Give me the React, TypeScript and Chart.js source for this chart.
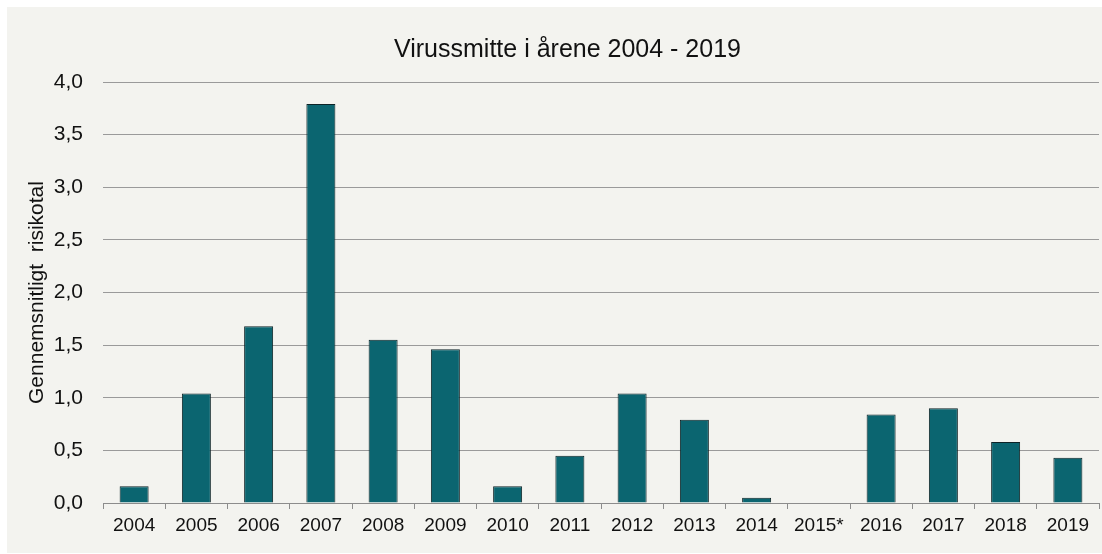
import React, { useEffect, useRef } from "react";
import { Chart, registerables } from "chart.js";

Chart.register(...registerables);

const categories = ["2004", "2005", "2006", "2007", "2008", "2009", "2010", "2011", "2012", "2013", "2014", "2015*", "2016", "2017", "2018", "2019"];
const values = [0.16, 1.04, 1.68, 3.79, 1.55, 1.46, 0.16, 0.45, 1.04, 0.79, 0.05, 0, 0.84, 0.9, 0.58, 0.43];
const chartTitle = "Virussmitte i årene 2004 - 2019";
const yAxisTitle = "Gennemsnitligt  risikotal";

const FONT = "'Liberation Sans', Arial, sans-serif";

const titlePlugin = {
  id: "customTitle",
  afterDraw(chart: any) {
    const ctx = chart.ctx;
    ctx.save();
    ctx.font = `25px ${FONT}`;
    ctx.fillStyle = "#111111";
    ctx.textAlign = "center";
    ctx.textBaseline = "alphabetic";
    ctx.fillText(chartTitle, 560.5, 50);
    ctx.restore();
  },
};

export default function App() {
  const ref = useRef<HTMLCanvasElement>(null);
  useEffect(() => {
    if (!ref.current) return;
    const chart = new Chart(ref.current, {
      type: "bar",
      data: {
        labels: categories,
        datasets: [
          {
            data: values,
            backgroundColor: "#0b6570",
            borderColor: "#0d2327",
            borderWidth: 1,
            categoryPercentage: 1,
            barPercentage: 0.466,
          },
        ],
      },
      options: {
        responsive: false,
        animation: false,
        devicePixelRatio: 1,
        layout: { padding: { top: 75, right: 3, left: 0, bottom: 0 } },
        plugins: {
          legend: { display: false },
          title: { display: false },
          tooltip: { enabled: false },
        },
        scales: {
          x: {
            type: "category",
            grid: {
              display: true,
              drawOnChartArea: false,
              drawTicks: true,
              tickLength: 6,
              color: "#8c8c8c",
              offset: true,
            },
            border: { display: true, color: "#8c8c8c" },
            ticks: {
              font: { size: 19, family: FONT },
              color: "#111111",
              padding: 5,
              maxRotation: 0,
              autoSkip: false,
            },
            afterFit: (s: any) => {
              s.height = 50;
            },
          },
          y: {
            min: 0,
            max: 4,
            ticks: {
              stepSize: 0.5,
              callback: (v: any) => Number(v).toFixed(1).replace(".", ","),
              font: { size: 21, family: FONT },
              color: "#111111",
              padding: 20,
            },
            grid: { color: "#9a9a9a", drawTicks: false },
            border: { display: false },
            title: {
              display: true,
              text: yAxisTitle,
              font: { size: 21, family: FONT },
              color: "#111111",
              padding: { top: 18, bottom: 0 },
            },
            afterFit: (s: any) => {
              s.width = 96;
            },
          },
        },
      },
      plugins: [titlePlugin],
    });
    return () => chart.destroy();
  }, []);

  return (
    <div
      style={{
        position: "absolute",
        left: 7,
        top: 7,
        width: 1095,
        height: 546,
        background: "#f3f3ef",
      }}
    >
      <canvas ref={ref} width={1095} height={546} style={{ display: "block" }} />
    </div>
  );
}
